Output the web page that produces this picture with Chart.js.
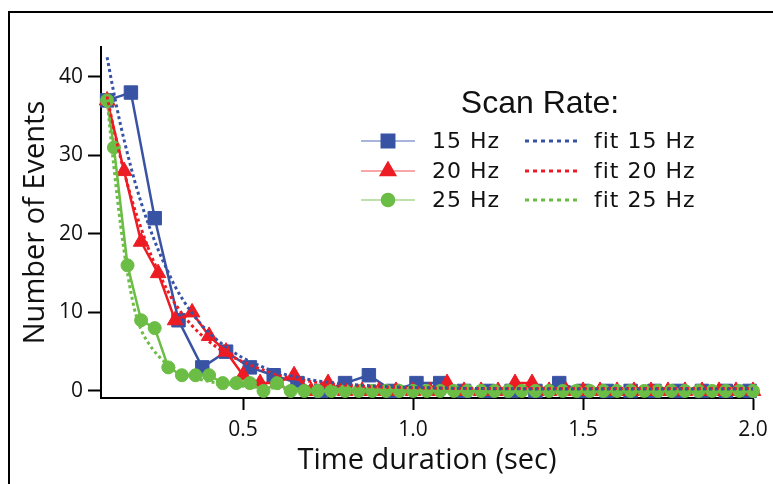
<!DOCTYPE html>
<html>
<head>
<meta charset="utf-8">
<script src="https://cdn.jsdelivr.net/npm/chart.js@4.4.1/dist/chart.umd.min.js"></script>
<style>
  html, body { margin: 0; padding: 0; background: #fff; }
</style>
</head>
<body>
<canvas id="eventsChart" width="773" height="484"></canvas>
<script>
// measured event counts (one bin per scan period)
const times15 = [0.10, 0.17, 0.24, 0.31, 0.38, 0.45, 0.52, 0.59, 0.66, 0.73, 0.80, 0.87, 0.94, 1.01,
                 1.08, 1.15, 1.22, 1.29, 1.36, 1.43, 1.50, 1.57, 1.64, 1.71, 1.78, 1.85, 1.92, 1.99];
const counts15 = [37, 38, 22, 9, 3, 5, 3, 2, 1, 0, 1, 2, 0, 1,
                  1, 0, 0, 0, 0, 1, 0, 0, 0, 0, 0, 0, 0, 0];

const times20 = [0.10, 0.15, 0.20, 0.25, 0.30, 0.35, 0.40, 0.45, 0.50, 0.55, 0.60, 0.65, 0.70,
                 0.75, 0.80, 0.85, 0.90, 0.95, 1.00, 1.05, 1.10, 1.15, 1.20, 1.25, 1.30, 1.35,
                 1.40, 1.45, 1.50, 1.55, 1.60, 1.65, 1.70, 1.75, 1.80, 1.85, 1.90, 1.95, 2.00];
const counts20 = [37, 28, 19, 15, 9, 10, 7, 5, 2, 1, 1, 2, 0,
                  1, 0, 0, 0, 0, 0, 0, 1, 0, 0, 0, 1, 1,
                  0, 0, 0, 0, 0, 0, 0, 0, 0, 0, 0, 0, 0];

const times25 = [0.10, 0.12, 0.16, 0.20, 0.24, 0.28, 0.32, 0.36, 0.40, 0.44, 0.48, 0.52, 0.56,
                 0.60, 0.64, 0.68, 0.72, 0.76, 0.80, 0.84, 0.88, 0.92, 0.96, 1.00, 1.04, 1.08,
                 1.12, 1.16, 1.20, 1.24, 1.28, 1.32, 1.36, 1.40, 1.44, 1.48, 1.52, 1.56, 1.60,
                 1.64, 1.68, 1.72, 1.76, 1.80, 1.84, 1.88, 1.92, 1.96, 2.00];
const counts25 = [37, 31, 16, 9, 8, 3, 2, 2, 2, 1, 1, 1, 0,
                  1, 0, 0, 0, 0, 0, 0, 0, 0, 0, 0, 0, 0,
                  0, 0, 0, 0, 0, 0, 0, 0, 0, 0, 0, 0, 0,
                  0, 0, 0, 0, 0, 0, 0, 0, 0, 0];

// fitted curves
const fitTimes = [0.10, 0.12, 0.14, 0.16, 0.18, 0.20, 0.22, 0.25, 0.28, 0.30, 0.35, 0.40, 0.45,
                  0.50, 0.60, 0.70, 0.80, 0.90, 1.00, 1.20, 1.50, 2.00];
const fit15 = [42.5, 37.9, 33.8, 30.2, 26.9, 24.0, 21.4, 18.0, 15.1, 13.3, 9.9, 7.4, 5.6,
               4.2, 2.4, 1.4, 0.9, 0.6, 0.45, 0.3, 0.25, 0.25];
const fit20 = [37.5, 33.3, 29.6, 26.3, 23.3, 20.7, 18.3, 15.2, 12.6, 11.1, 8.3, 6.3, 4.8,
               3.7, 2.1, 1.2, 0.75, 0.5, 0.4, 0.3, 0.3, 0.3];
const fit25 = [37, 28.5, 21, 15, 10.5, 7.8, 6.2, 4.5, 3.3, 2.8, 1.8, 1.2, 0.85,
               0.6, 0.35, 0.25, 0.2, 0.2, 0.2, 0.2, 0.2, 0.2];

const xTicks = [0.5, 1.0, 1.5, 2.0];
const yTicks = [0, 10, 20, 30, 40];

const BLUE = '#3953a4';
const RED = '#ed1c24';
const GREEN = '#6bbd45';

const toPoints = (xs, ys) => xs.map((x, i) => ({ x: x, y: ys[i] }));

// outer frame that surrounds the figure
const framePlugin = {
    id: 'frame',
    beforeDraw(chart) {
        const ctx = chart.ctx;
        ctx.save();
        ctx.fillStyle = '#fff';
        ctx.fillRect(0, 0, chart.width, chart.height);
        ctx.strokeStyle = '#000';
        ctx.lineWidth = 2;
        ctx.strokeRect(9, 12, 800, 500);
        ctx.restore();
    }
};

// two column legend with a heading
const legendPlugin = {
    id: 'scanLegend',
    afterDraw(chart) {
        const ctx = chart.ctx;
        const ds = chart.data.datasets;
        ctx.save();
        ctx.fillStyle = '#111';
        ctx.font = '32px "Liberation Sans", Arial, sans-serif';
        ctx.textAlign = 'center';
        ctx.textBaseline = 'middle';
        ctx.fillText('Scan Rate:', 540, 104);

        ctx.font = '22px "DejaVu Sans", sans-serif';
        ctx.letterSpacing = '1px';
        ctx.textAlign = 'left';
        const rowY = [141, 171, 200];
        for (let i = 0; i < 3; i++) {
            const d = ds[i];
            const y = rowY[i];
            ctx.strokeStyle = d.legendLine;
            ctx.lineWidth = 1.5;
            ctx.setLineDash([]);
            ctx.beginPath();
            ctx.moveTo(361, y);
            ctx.lineTo(415, y);
            ctx.stroke();
            ctx.fillStyle = d.pointBackgroundColor;
            ctx.strokeStyle = d.pointBorderColor;
            Chart.helpers.drawPoint(ctx, {
                pointStyle: d.pointStyle, radius: d.pointRadius, rotation: 0, borderWidth: 1
            }, 388, y);
            ctx.fillStyle = '#111';
            ctx.fillText(d.label, 432, y + 1);

            const f = ds[i + 3];
            ctx.strokeStyle = f.borderColor;
            ctx.lineWidth = 3;
            ctx.setLineDash([4, 4]);
            ctx.beginPath();
            ctx.moveTo(525, y);
            ctx.lineTo(579, y);
            ctx.stroke();
            ctx.setLineDash([]);
            ctx.fillText(f.label, 594, y + 1);
        }
        ctx.restore();
    }
};

const solid = (label, xs, ys, color, light, style, radius) => ({
    label: label,
    data: toPoints(xs, ys),
    borderColor: color,
    backgroundColor: color,
    pointBackgroundColor: color,
    pointBorderColor: color,
    pointStyle: style,
    pointRadius: radius,
    pointBorderWidth: 1,
    borderWidth: 2.5,
    legendLine: light,
    clip: false
});

const fitLine = (label, ys, color) => ({
    label: label,
    data: toPoints(fitTimes, ys),
    borderColor: color,
    borderWidth: 3,
    borderDash: [3, 3],
    pointRadius: 0,
    cubicInterpolationMode: 'monotone',
    clip: false,
    order: -1
});

const ctx = document.getElementById('eventsChart').getContext('2d');
const eventsChart = new Chart(ctx, {
    type: 'line',
    data: {
        datasets: [
            Object.assign(solid('15 Hz', times15, counts15, BLUE, '#8a9bd0', 'rect', 9.5), { order: 3 }),
            Object.assign(solid('20 Hz', times20, counts20, RED, '#f58a8e', 'triangle', 9), { order: 2 }),
            Object.assign(solid('25 Hz', times25, counts25, GREEN, '#a8d890', 'circle', 6.5), { order: 1 }),
            fitLine('fit 15 Hz', fit15, BLUE),
            fitLine('fit 20 Hz', fit20, RED),
            fitLine('fit 25 Hz', fit25, GREEN)
        ]
    },
    options: {
        responsive: false,
        animation: false,
        devicePixelRatio: 1,
        layout: { padding: { top: 47, right: 20, left: 0, bottom: 0 } },
        plugins: { legend: { display: false }, tooltip: { enabled: false } },
        scales: {
            x: {
                type: 'linear',
                min: 0.082,
                max: 2.0,
                afterBuildTicks: s => { s.ticks = xTicks.map(v => ({ value: v })); },
                afterFit: s => { s.height = 86; s.paddingLeft = 0; s.paddingRight = 0; },
                grid: { drawOnChartArea: false, drawTicks: true, tickLength: 12, tickWidth: 2, tickColor: '#000' },
                border: { display: true, color: '#000', width: 2 },
                ticks: {
                    color: '#111',
                    padding: 7,
                    maxRotation: 0,
                    font: { family: '"Open Sans", sans-serif', size: 21 },
                    callback: v => v.toFixed(1)
                },
                title: {
                    display: true,
                    text: 'Time duration (sec)',
                    color: '#111',
                    font: { family: '"Open Sans", sans-serif', size: 29 },
                    padding: { top: 0, bottom: 6 }
                }
            },
            y: {
                type: 'linear',
                min: -0.9,
                max: 43.8,
                afterBuildTicks: s => { s.ticks = yTicks.map(v => ({ value: v })); },
                afterFit: s => { s.width = 101; s.paddingTop = 0; s.paddingBottom = 0; },
                grid: { drawOnChartArea: false, drawTicks: true, tickLength: 13, tickWidth: 2, tickColor: '#000' },
                border: { display: true, color: '#000', width: 2 },
                ticks: {
                    color: '#111',
                    padding: 5,
                    font: { family: '"Open Sans", sans-serif', size: 21 }
                },
                title: {
                    display: true,
                    text: 'Number of Events',
                    color: '#111',
                    font: { family: '"Open Sans", sans-serif', size: 29 },
                    padding: { top: 18, bottom: 0 }
                }
            }
        }
    },
    plugins: [framePlugin, legendPlugin]
});
</script>
</body>
</html>
